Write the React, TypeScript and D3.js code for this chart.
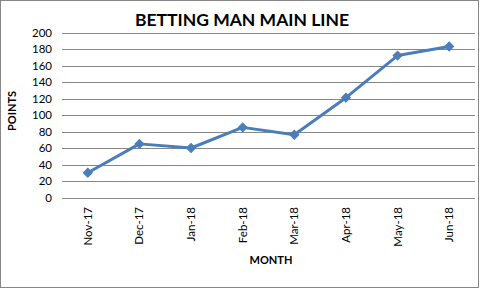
import React from "react";
import * as d3 from "d3";

const categories = ["Nov-17", "Dec-17", "Jan-18", "Feb-18", "Mar-18", "Apr-18", "May-18", "Jun-18"];
const points = [30, 65, 60, 85, 76, 121, 172, 183];
const yTicks = [0, 20, 40, 60, 80, 100, 120, 140, 160, 180, 200];
const title = "BETTING MAN MAIN LINE";
const xTitle = "MONTH";
const yTitle = "POINTS";

const W = 481;
const H = 289;
const FONT = "Lato, 'Open Sans', sans-serif";

export default function App() {
  const x = d3.scaleBand<string>().domain(categories).range([62, 475]);
  const y = d3.scaleLinear().domain([0, 200]).range([197.5, 32.5]);
  const line = d3
    .line<number>()
    .x((_, i) => (x(categories[i]) as number) + x.bandwidth() / 2)
    .y((d) => y(d));
  const marker = d3.symbol().type(d3.symbolSquare).size(40)() as string;

  return (
    <svg
      width={W}
      height={H}
      style={{ position: "fixed", left: 0, top: 0, background: "#fff" }}
      fontFamily={FONT}
    >
      <rect x={0.5} y={0.5} width={W - 3} height={H - 2} fill="#fff" stroke="#868686" strokeWidth={1} />
      <text x={242} y={26} textAnchor="middle" fontSize={17.5} fontWeight="bold" fill="#000">
        {title}
      </text>
      {yTicks.map((t) => (
        <g key={t}>
          <line x1={62} x2={475} y1={Math.round(y(t)) + 0.5} y2={Math.round(y(t)) + 0.5} stroke="#868686" strokeWidth={1} />
          <text x={52} y={y(t) + 4} textAnchor="end" fontSize={11.5} fill="#000">
            {t}
          </text>
        </g>
      ))}
      {categories.map((c) => {
        const cx = (x(c) as number) + x.bandwidth() / 2;
        return (
          <text
            key={c}
            transform={`translate(${cx + 4},207) rotate(-90)`}
            textAnchor="end"
            fontSize={11.5}
            fill="#000"
          >
            {c}
          </text>
        );
      })}
      <text x={271} y={264} textAnchor="middle" fontSize={11} fontWeight="bold" fill="#000">
        {xTitle}
      </text>
      <text transform={`translate(16,111) rotate(-90)`} textAnchor="middle" fontSize={11} fontWeight="bold" fill="#000">
        {yTitle}
      </text>
      <path d={line(points) as string} fill="none" stroke="#4A7EBB" strokeWidth={3} strokeLinejoin="round" />
      {points.map((v, i) => (
        <path
          key={i}
          d={marker}
          transform={`translate(${(x(categories[i]) as number) + x.bandwidth() / 2},${y(v)}) rotate(45)`}
          fill="#4A7EBB"
          stroke="#4A7EBB"
          strokeWidth={1}
        />
      ))}
    </svg>
  );
}
